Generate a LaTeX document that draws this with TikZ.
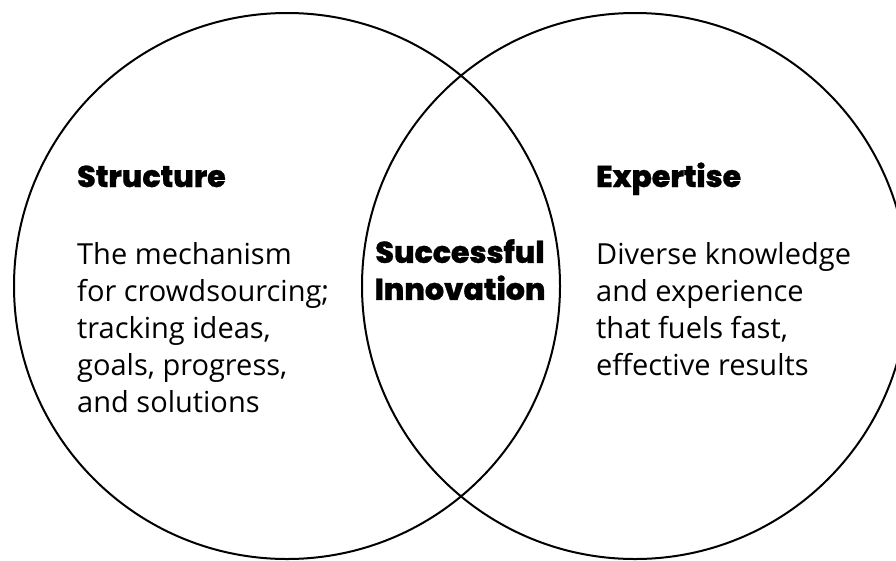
\documentclass[tikz,border=0pt]{standalone}
\usepackage{fontspec}
\usepackage{tikz}
\usetikzlibrary{positioning}

\newfontfamily\bodyfont{Open Sans}
\IfFontExistsTF{Poppins ExtraBold}
  {\newfontfamily\headfont{Poppins ExtraBold}[FakeBold=1]}
  {\IfFontExistsTF{Poppins Bold}
    {\newfontfamily\headfont{Poppins Bold}[FakeBold=1.5]}
    {\newfontfamily\headfont{Poppins}[UprightFont=*, UprightFeatures={FakeBold=3}]}}

\begin{document}
\begin{tikzpicture}[
    x=1pt, y=-1pt,
    ring/.style={draw, line width=2pt},
    head/.style={font=\headfont\fontsize{30}{37}\selectfont, inner sep=0pt, anchor=base west},
    body/.style={font=\bodyfont\fontsize{29}{37}\selectfont, align=left, inner sep=0pt}
]
    \useasboundingbox (0,0) rectangle (896,560);
    \draw[ring] (287,286) circle[radius=273];
    \draw[ring] (635,286) circle[radius=273];

    % left set
    \node[head] (structure) at (77,187) {Structure};
    \node[body, below right=55pt and 0pt of structure.base west] (mechanism) {The mechanism\\for crowdsourcing;\\tracking ideas,\\goals, progress,\\and solutions};

    % right set
    \node[head] (expertise) at (596,187) {Expertise};
    \node[body, below right=55pt and 0pt of expertise.base west] (knowledge) {Diverse knowledge\\and experience\\that fuels fast,\\effective results};

    % overlap
    \node[font=\headfont\fontsize{30}{37}\selectfont, align=center, inner sep=0pt, anchor=north] (innovation) at (460,239) {Successful\\Innovation};
\end{tikzpicture}
\end{document}
